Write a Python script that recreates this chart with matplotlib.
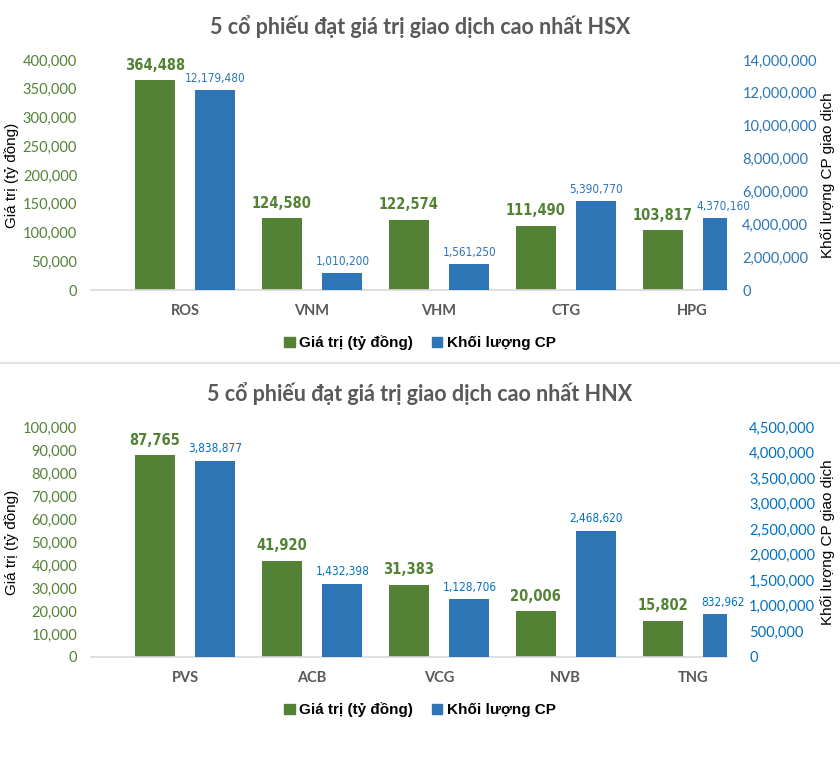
import numpy as np
import matplotlib
matplotlib.use('Agg')
import matplotlib.pyplot as plt
from matplotlib.ticker import FuncFormatter, MultipleLocator
from matplotlib.patches import Patch
from matplotlib.lines import Line2D

# du lieu doc tu hinh
hsx_codes = ['ROS', 'VNM', 'VHM', 'CTG', 'HPG']
hsx_value = [364488, 124580, 122574, 111490, 103817]
hsx_volume = [12179480, 1010200, 1561250, 5390770, 4370160]

hnx_codes = ['PVS', 'ACB', 'VCG', 'NVB', 'TNG']
hnx_value = [87765, 41920, 31383, 20006, 15802]
hnx_volume = [3838877, 1432398, 1128706, 2468620, 832962]

green = '#548235'
blue = '#2E75B6'
gray = '#595959'

W, H = 840, 763
fig = plt.figure(figsize=(W / 100, H / 100), dpi=100)

comma = FuncFormatter(lambda v, p: f'{int(v):,}')


def draw(top_px, title, codes, value, volume, vmax, vstep, wmax, wstep, tick_blue, rpad):
    ax = fig.add_axes([91 / W, (H - top_px - 230) / H, 636 / W, 230 / H])
    x = np.arange(len(codes))
    ax.bar(x - 0.236, value, 0.315, color=green, zorder=2)
    ax.set_xlim(-0.74, 4.27)
    ax.set_ylim(0, vmax)
    ax.yaxis.set_major_locator(MultipleLocator(vstep))
    ax.yaxis.set_major_formatter(comma)
    ax.set_xticks(x, codes)
    ax.tick_params(axis='x', length=0, pad=10, labelsize=10.5, labelcolor=gray)
    for t in ax.get_xticklabels():
        t.set_fontweight('bold')
        t.set_family('Lato')
    ax.tick_params(axis='y', length=0, pad=10, labelsize=10.5, labelcolor=green)
    for t in ax.get_yticklabels():
        t.set_family('Lato')
    for s in ['top', 'left', 'right']:
        ax.spines[s].set_visible(False)
    ax.spines['bottom'].set_color('#D9D9D9')
    ax.spines['bottom'].set_linewidth(1.2)
    ax.set_ylabel('Giá trị (tỷ đồng)', fontsize=11, family='Liberation Sans')
    ax.yaxis.set_label_coords(-0.113, 0.5)
    for xi, v in zip(x, value):
        ax.annotate(f'{v:,}', (xi - 0.236, v), xytext=(0, 7.5), textcoords='offset points',
                    ha='center', va='baseline', color=green, fontsize=10.5,
                    fontweight='bold', family='DejaVu Sans', fontstretch='condensed')

    ax2 = ax.twinx()
    ax2.bar(x + 0.24, volume, 0.315, color=blue, zorder=2)
    ax2.set_ylim(0, wmax)
    ax2.yaxis.set_major_locator(MultipleLocator(wstep))
    ax2.yaxis.set_major_formatter(comma)
    ax2.tick_params(axis='y', length=0, pad=rpad, labelsize=10.5, labelcolor=tick_blue)
    for t in ax2.get_yticklabels():
        t.set_family('Lato')
    for s in ax2.spines.values():
        s.set_visible(False)
    ax2.set_ylabel('Khối lượng CP giao dịch', fontsize=11, family='Liberation Sans')
    ax2.yaxis.set_label_coords(1.146, 0.5)
    for xi, v in zip(x, volume):
        ax2.annotate(f'{v:,}', (xi + 0.24, v), xytext=(0, 6), textcoords='offset points',
                     ha='center', va='baseline', color=tick_blue, fontsize=8.5,
                     family='DejaVu Sans', fontstretch='condensed')

    fig.text(0.5, 1 - (top_px - 33) / H, title, ha='center', va='center',
             fontsize=15.5, fontweight='bold', color=gray, family='Lato')

    handles = [Patch(color=green, label='Giá trị (tỷ đồng)'),
               Patch(color=blue, label='Khối lượng CP')]
    fig.legend(handles=handles, loc='center', bbox_to_anchor=(0.5, 1 - (top_px + 283) / H),
               ncol=2, frameon=False, handlelength=0.7, handleheight=0.7,
               handletextpad=0.3, columnspacing=1.2,
               prop={'family': 'Liberation Sans', 'weight': 'bold', 'size': 11})


draw(60, '5 cổ phiếu đạt giá trị giao dịch cao nhất HSX', hsx_codes, hsx_value, hsx_volume,
     400000, 50000, 14000000, 2000000, '#2E75B6', 11)
draw(427, '5 cổ phiếu đạt giá trị giao dịch cao nhất HNX', hnx_codes, hnx_value, hnx_volume,
     100000, 10000, 4500000, 500000, '#0070C0', 16)

# duong ngan cach hai bieu do
fig.add_artist(Line2D([0, 1], [1 - 363 / H, 1 - 363 / H], color='#E3E3E3', lw=1.5))

fig.savefig('out.png', dpi=100, facecolor='white')
